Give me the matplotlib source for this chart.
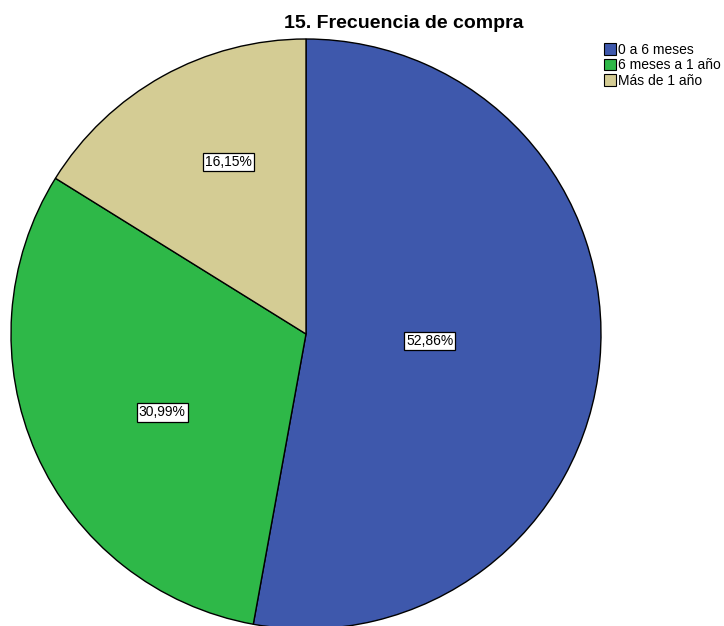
import numpy as np
import matplotlib.pyplot as plt
from matplotlib.patches import Patch

plt.rcParams['font.family'] = ['Liberation Sans', 'DejaVu Sans']

categorias = ['0 a 6 meses', '6 meses a 1 año', 'Más de 1 año']
porcentajes = [52.86, 30.99, 16.15]
etiquetas = ['52,86%', '30,99%', '16,15%']
colores = ['#3e58ac', '#2eb848', '#d4cc94']
# distancia (fraccion del radio) y giro (grados) de cada etiqueta
dist_etq = [0.42, 0.555, 0.64]
giro_etq = [2, 4.7, -4.7]

fig = plt.figure(figsize=(7.24, 6.26), dpi=100)
ax = fig.add_axes([0, 0, 1, 1])

cx, cy, r = 306, 292, 295
wedges, _ = ax.pie(porcentajes, colors=colores, startangle=90, counterclock=False,
                   center=(cx, cy), radius=r, frame=True,
                   wedgeprops=dict(edgecolor='black', linewidth=1))
ax.set_xlim(0, 724)
ax.set_ylim(0, 626)
ax.set_aspect('equal')
ax.axis('off')

for w, t, d, g in zip(wedges, etiquetas, dist_etq, giro_etq):
    ang = np.deg2rad((w.theta1 + w.theta2) / 2 + g)
    ax.text(cx + d * r * np.cos(ang), cy + d * r * np.sin(ang), t,
            ha='center', va='center', fontsize=10,
            bbox=dict(facecolor='white', edgecolor='black', linewidth=0.9, pad=1.5))

fig.text(404 / 724, 1 - 24 / 626, '15. Frecuencia de compra', ha='center', va='center',
         fontsize=14, fontweight='bold')

handles = [Patch(facecolor=c, edgecolor='black', linewidth=0.8) for c in colores]
fig.legend(handles, categorias, loc='upper left', bbox_to_anchor=(604 / 724, 1 - 43 / 626),
           frameon=False, fontsize=10, handlelength=0.85, handleheight=0.9,
           handletextpad=0.15, labelspacing=0.1, borderpad=0, borderaxespad=0)

fig.savefig('out.png', dpi=100)
